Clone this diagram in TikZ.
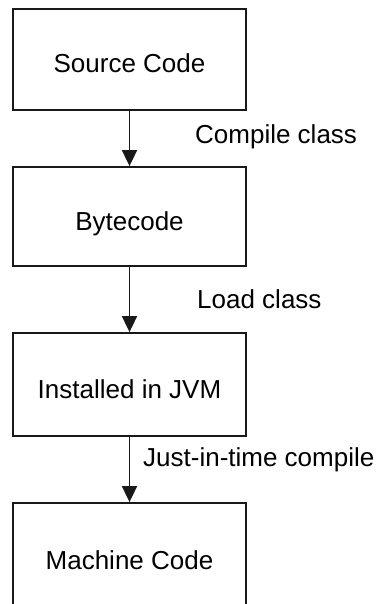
\documentclass[tikz,border=0pt]{standalone}
\usepackage{fontspec}
\setmainfont{Liberation Sans}
\usetikzlibrary{arrows.meta}
\begin{document}
\begin{tikzpicture}[x=1pt,y=-1pt,
  stagebox/.style={draw=black!90, line width=1.8pt, minimum width=233pt, inner sep=0pt,
    font=\fontsize{26}{31}\selectfont, text height=27pt, text depth=0pt},
  flowarrow/.style={draw=black!90, line width=1.8pt, -{Triangle[length=16pt,width=15pt]}},
  steplabel/.style={font=\fontsize{26}{31}\selectfont, inner sep=0pt, anchor=base west}]
\useasboundingbox (0,0) rectangle (381,604);
\node[stagebox, minimum height=101pt] (src) at (129.5,59.5) {Source Code};
\node[stagebox, minimum height=99pt] (byte) at (129.5,216.5) {Bytecode};
\node[stagebox, minimum height=103pt] (jvm) at (129.5,384.5) {Installed in JVM};
\node[stagebox, minimum height=105pt] (mach) at (129.5,555.5) {Machine Code};
\draw[flowarrow] (src) -- (byte);
\draw[flowarrow] (byte) -- (jvm);
\draw[flowarrow] (jvm) -- (mach);
\node[steplabel] (l1) at (195,143) {Compile class};
\node[steplabel] (l2) at (197,308) {Load class};
\node[steplabel] (l3) at (143,466) {Just-in-time compile};
\end{tikzpicture}
\end{document}
